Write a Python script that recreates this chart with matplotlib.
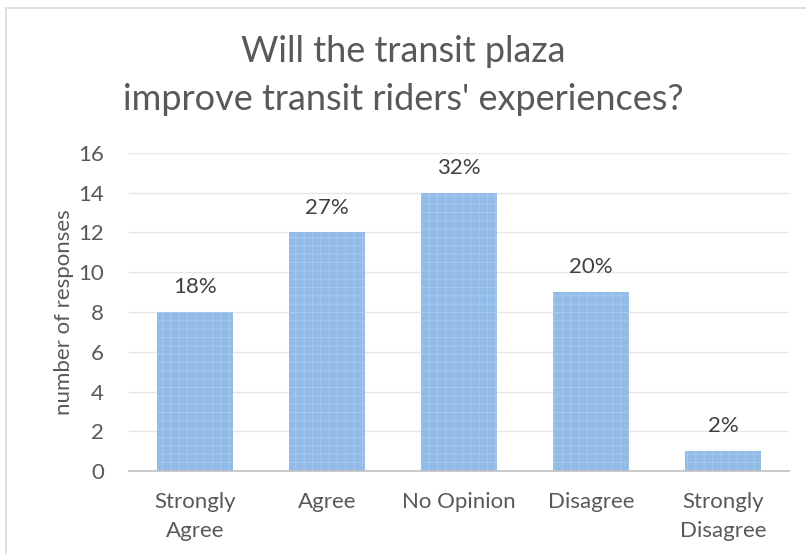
import matplotlib
matplotlib.use("Agg")
import matplotlib.pyplot as plt
from matplotlib.patches import Rectangle

categories = ["Strongly\nAgree", "Agree", "No Opinion", "Disagree", "Strongly\nDisagree"]
counts = [8, 12, 14, 9, 1]
pct_labels = ["18%", "27%", "32%", "20%", "2%"]
yticks = [0, 2, 4, 6, 8, 10, 12, 14, 16]

plt.rcParams['font.family'] = ['Lato', 'DejaVu Sans']
plt.rcParams['hatch.color'] = '#c4dbf3'
plt.rcParams['hatch.linewidth'] = 0.6
txt = '#595959'

fig = plt.figure(figsize=(8.06, 5.54), dpi=100)
fig.patches.append(Rectangle((6/806, -0.1), 1.2, 1 - 8/554 + 0.1, transform=fig.transFigure,
                             fill=False, edgecolor='#d9d9d9', linewidth=1.2))
ax = fig.add_axes([129/806, 1 - 471/554, (789-129)/806, (471-153)/554])

x = range(len(categories))
bars = ax.bar(x, counts, width=0.57, color='#92bbe8', edgecolor='#a9cbee', hatch='++', linewidth=0)
for xi, c, p in zip(x, counts, pct_labels):
    ax.text(xi, c + 0.75, p, ha='center', va='bottom', fontsize=16, color='#404040')

ax.set_xlim(-0.5, 4.5)
ax.set_ylim(0, 16)
ax.set_yticks(yticks)
ax.set_xticks(list(x))
ax.set_xticklabels(categories, fontsize=16, color=txt, linespacing=1.55)
ax.tick_params(axis='y', labelsize=16, labelcolor=txt, length=0, pad=18)
ax.tick_params(axis='x', length=0, pad=15)
ax.grid(axis='y', color='#e6e6e6', linewidth=1)
ax.set_axisbelow(True)
for s in ['top', 'right', 'left']:
    ax.spines[s].set_visible(False)
ax.spines['bottom'].set_color('#bfbfbf')
ax.spines['bottom'].set_linewidth(1.2)
ax.set_ylabel('number of responses', fontsize=16, color=txt, labelpad=3)

fig.text(0.5, 1 - 52/554, "Will the transit plaza", ha='center', va='center', fontsize=26, color=txt)
fig.text(0.5, 1 - 100/554, "improve transit riders' experiences?", ha='center', va='center', fontsize=26, color=txt)

fig.savefig('out.png', dpi=100)
